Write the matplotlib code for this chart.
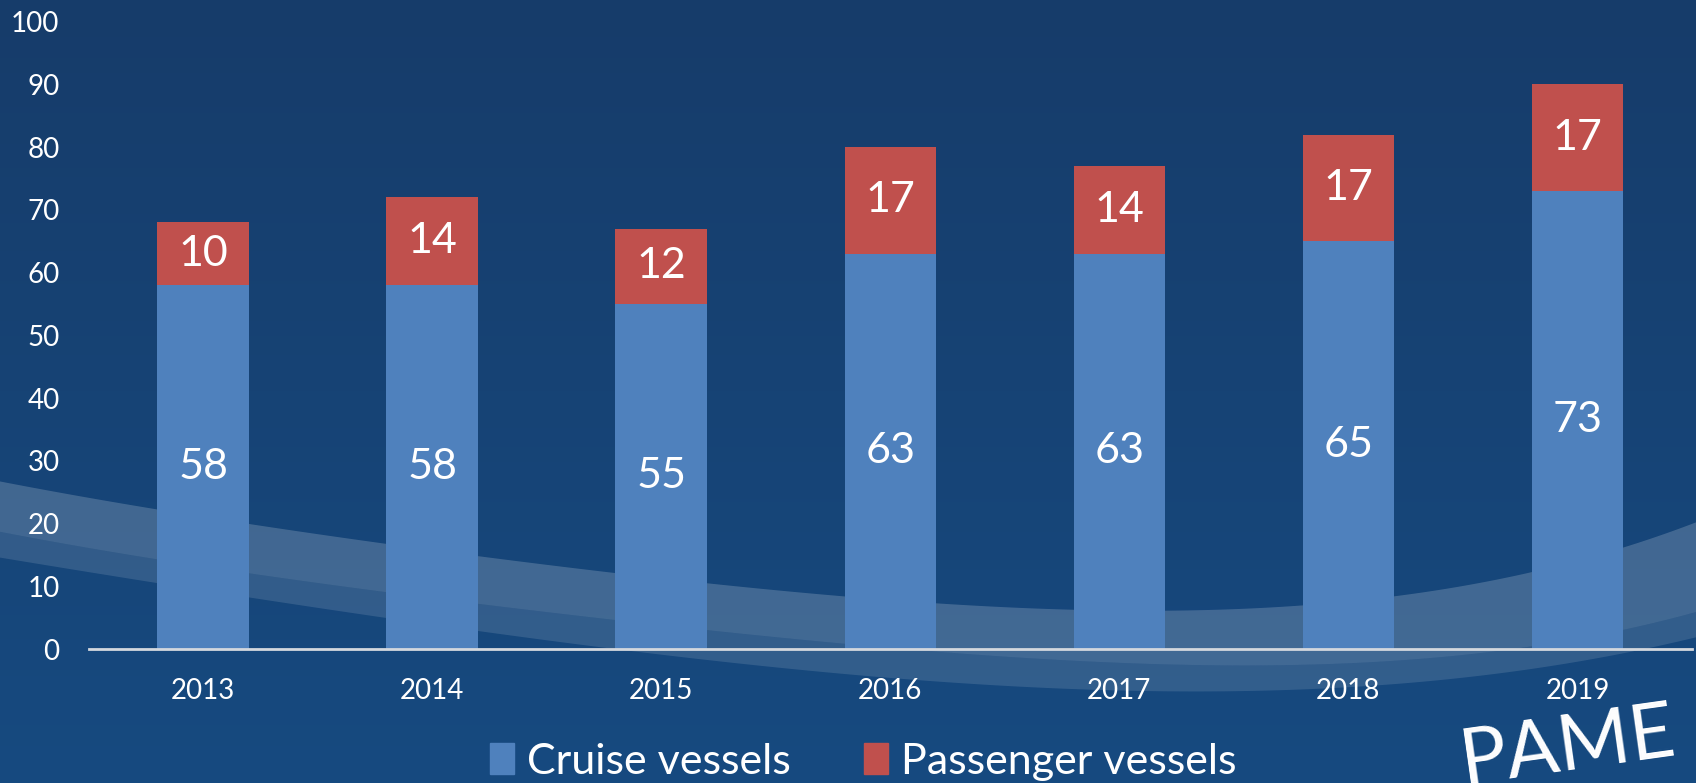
import numpy as np
import matplotlib.pyplot as plt
from matplotlib.colors import LinearSegmentedColormap
from matplotlib.patches import Patch

# data
years = ["2013", "2014", "2015", "2016", "2017", "2018", "2019"]
cruise = [58, 58, 55, 63, 63, 65, 73]
passenger = [10, 14, 12, 17, 14, 17, 17]
yticks = [0, 10, 20, 30, 40, 50, 60, 70, 80, 90, 100]

W, H = 1696, 783
plt.rcParams['font.family'] = ['Lato', 'DejaVu Sans']

fig = plt.figure(figsize=(W / 100, H / 100), dpi=100)

# background: gradient + translucent wave bands (decoration, in pixel coords)
bg = fig.add_axes([0, 0, 1, 1], zorder=0)
grad = np.linspace(0, 1, 256).reshape(-1, 1)
cmap = LinearSegmentedColormap.from_list("bg", ["#163c6a", "#164a80"])
bg.imshow(grad, aspect='auto', cmap=cmap, extent=[0, W, H, 0])
xs = np.linspace(0, W, 400)
top_pts = ([0, 158, 249, 385, 562, 800, 1082, 1200, 1300, 1393, 1533, 1623, 1696],
           [483, 507, 523, 544, 570, 592, 609, 609, 605, 596, 575, 549, 520])
mid_pts = ([0, 158, 249, 385, 562, 800, 1082, 1200, 1393, 1533, 1623, 1696],
           [533, 557, 573, 593, 615, 640, 660, 664, 661, 647, 632, 610])
bot_pts = ([0, 158, 249, 385, 800, 1082, 1200, 1533, 1623, 1696],
           [558, 582, 598, 618, 670, 690, 690, 670, 653, 637])
top = np.polyval(np.polyfit(*top_pts, 4), xs)
mid = np.polyval(np.polyfit(*mid_pts, 4), xs)
bot = np.polyval(np.polyfit(*bot_pts, 4), xs)
bg.fill_between(xs, top, mid, color="white", alpha=0.19, lw=0)
bg.fill_between(xs, mid, bot, color="white", alpha=0.12, lw=0)
bg.set_xlim(0, W)
bg.set_ylim(H, 0)
bg.axis('off')

# main chart
ax = fig.add_axes([88.7 / W, 1 - 649 / H, (1692 - 88.7) / W, (649 - 21.6) / H], zorder=1)
ax.set_facecolor('none')
x = np.arange(len(years))
b1 = ax.bar(x, cruise, width=0.4, color="#4f81bd", label="Cruise vessels")
b2 = ax.bar(x, passenger, width=0.4, bottom=cruise, color="#c0504d", label="Passenger vessels")
ax.bar_label(b1, label_type='center', color='white', fontsize=31)
ax.bar_label(b2, label_type='center', color='white', fontsize=31)

ax.set_xlim(-0.5, len(years) - 0.5)
ax.set_ylim(0, 100)
ax.set_yticks(yticks)
ax.set_xticks(x)
ax.set_xticklabels(years)
ax.tick_params(axis='y', length=0, pad=21, labelsize=20, labelcolor='white')
ax.tick_params(axis='x', length=0, pad=21, labelsize=20, labelcolor='white')
for s in ['top', 'right', 'left']:
    ax.spines[s].set_visible(False)
ax.spines['bottom'].set_color('#d4d8de')
ax.spines['bottom'].set_linewidth(2)

handles = [Patch(color="#4f81bd"), Patch(color="#c0504d")]
fig.legend(handles, ["Cruise vessels", "Passenger vessels"], loc='center',
           bbox_to_anchor=(0.509, 0.027), ncol=2, frameon=False, fontsize=31,
           labelcolor='white', handlelength=0.55, handleheight=0.72,
           handletextpad=0.3, columnspacing=1.7)

fig.text(1568 / W, 1 - 748 / H, "PAME", color='white', fontsize=56,
         family=['Liberation Sans Narrow', 'Lato'], rotation=8,
         ha='center', va='center')

plt.savefig("out.png", dpi=100)
